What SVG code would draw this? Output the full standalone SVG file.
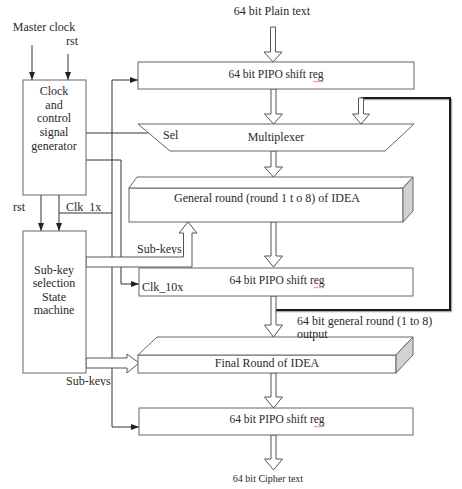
<svg xmlns="http://www.w3.org/2000/svg" width="462" height="489" viewBox="0 0 462 489">
<style>
text{font-family:"Liberation Serif","Times New Roman",serif;font-size:12px;fill:#2a2a2a}
.box{fill:#fff;stroke:#666;stroke-width:1}
.side{fill:#d2d2d2;stroke:#666;stroke-width:1}
.ln{fill:none;stroke:#333;stroke-width:1}
.ha{fill:#fff;stroke:#555;stroke-width:1}
.mid{text-anchor:middle}
.sq{fill:none;stroke:#d33;stroke-width:0.6}
</style>
<defs>
<marker id="ah" viewBox="0 0 8 6" refX="8" refY="3" markerWidth="8" markerHeight="6" orient="auto" markerUnits="userSpaceOnUse">
<path d="M0,0 L8,3 L0,6 z" fill="#222"/>
</marker>
<clipPath id="c1"><rect x="0" y="0" width="462" height="211.3"/></clipPath>
<clipPath id="c2"><rect x="0" y="0" width="462" height="254"/></clipPath>
<clipPath id="c3"><rect x="0" y="0" width="462" height="386"/></clipPath>
</defs>
<rect width="462" height="489" fill="#fff"/>

<g id="connectors">
<line class="ln" x1="32" y1="45" x2="32" y2="80" marker-end="url(#ah)"/>
<line class="ln" x1="68" y1="54" x2="68" y2="80" marker-end="url(#ah)"/>
<line class="ln" x1="41" y1="195" x2="41" y2="231" marker-end="url(#ah)"/>
<line class="ln" x1="59" y1="195" x2="59" y2="231" marker-end="url(#ah)"/>
<polyline class="ln" points="59,213 112,213"/>
<line class="ln" x1="112" y1="80" x2="112" y2="427"/>
<line class="ln" x1="112" y1="80" x2="138" y2="80" marker-end="url(#ah)"/>
<polyline class="ln" points="112,427 139,427" marker-end="url(#ah)"/>
<line class="ln" x1="86" y1="133" x2="148" y2="133"/>
<polyline class="ln" points="86,160 121,160 121,284 139,284" marker-end="url(#ah)"/>
<path d="M274.5,311.5 H451.5 V99.5 H362" fill="none" stroke="#aaa" stroke-width="1.5"/>
<path d="M273,310 H450 V98 H361" fill="none" stroke="#1a1a1a" stroke-width="2"/>
<polygon class="ha" points="270.5,27 275.5,27 275.5,52 282,52 273,62 264,52 270.5,52"/>
<polygon class="ha" points="271,89 276,89 276,114 282.5,114 273.5,124 264.5,114 271,114"/>
<polygon class="ha" points="358.5,98 363.5,98 363.5,114 369.5,114 361,124 352.5,114 358.5,114"/>
<polygon class="ha" points="271,151 276,151 276,167 282.5,167 273.5,177 264.5,167 271,167"/>
<polygon class="ha" points="271,222 276,222 276,256 282.5,256 273.5,267 264.5,256 271,256"/>
<polygon class="ha" points="271,296 276,296 276,325 282.5,325 273.5,337 264.5,325 271,325"/>
<polygon class="ha" points="271,373 276,373 276,397 282.5,397 273.5,408 264.5,397 271,397"/>
<polygon class="ha" points="271,435 276,435 276,459 282.5,459 273.5,470 264.5,459 271,459"/>
<polygon class="ha" points="86,257 183.5,257 183.5,233 179,233 188,222 197,233 192,233 192,267 86,267"/>
<polygon class="ha" points="86,358 127,358 127,354 139,363 127,373 127,368 86,368"/>
</g>

<g id="clock-gen">
<rect class="box" x="23" y="80" width="63" height="115"/>
<text class="mid" x="54" y="95">Clock</text>
<text class="mid" x="54" y="109">and</text>
<text class="mid" x="54" y="122">control</text>
<text class="mid" x="54" y="136">signal</text>
<text class="mid" x="54" y="150">generator</text>
</g>

<g id="subkey-fsm">
<rect class="box" x="23" y="231" width="63" height="142"/>
<text class="mid" x="54" y="274">Sub-key</text>
<text class="mid" x="54" y="287">selection</text>
<text class="mid" x="54" y="301">State</text>
<text class="mid" x="54" y="314">machine</text>
</g>

<g id="reg-top">
<rect class="box" x="138" y="62" width="276" height="27"/>
<text class="mid" x="276" y="78" style="font-size:11.5px">64 bit PIPO shift reg</text>
<path class="sq" d="M313,81 l1.5,1 l1.5,-1 l1.5,1 l1.5,-1 l1.5,1 l1.5,-1 l1.5,1"/>
</g>

<g id="mux">
<polygon class="box" points="138,124 414,124 385,151 170,151"/>
<text x="163" y="139">Sel</text>
<text class="mid" x="276" y="141">Multiplexer</text>
</g>

<g id="general-round">
<rect class="box" x="129" y="188" width="274" height="34"/>
<polygon class="box" points="129,188 137,177 413,177 403,188"/>
<polygon class="side" points="403,188 413,177 413,211 403,222"/>
<text class="mid" x="267" y="202">General round (round 1 t o 8) of IDEA</text>
</g>

<g id="reg-mid">
<rect class="box" x="139" y="268" width="274" height="28"/>
<text class="mid" x="277" y="284" style="font-size:11.5px">64 bit PIPO shift reg</text>
<path class="sq" d="M314,287 l1.5,1 l1.5,-1 l1.5,1 l1.5,-1 l1.5,1 l1.5,-1 l1.5,1"/>
<text x="142" y="291">Clk_10x</text>
</g>

<g id="final-round">
<rect class="box" x="138" y="355" width="258" height="18"/>
<polygon class="box" points="138,355 157,337 413,337 396,355"/>
<polygon class="side" points="396,355 413,337 413,355 396,373"/>
<text class="mid" x="267" y="367">Final Round of IDEA</text>
</g>

<g id="reg-bottom">
<rect class="box" x="139" y="408" width="274" height="27"/>
<text class="mid" x="277" y="423" style="font-size:11.5px">64 bit PIPO shift reg</text>
<path class="sq" d="M314,426 l1.5,1 l1.5,-1 l1.5,1 l1.5,-1 l1.5,1 l1.5,-1 l1.5,1"/>
</g>

<g id="labels">
<text class="mid" x="272" y="15">64 bit Plain text</text>
<text class="mid" x="44" y="31">Master clock</text>
<text x="66" y="45">rst</text>
<text x="13" y="211">rst</text>
<text x="66" y="211" clip-path="url(#c1)">Clk_1x</text>
<text x="137" y="253" clip-path="url(#c2)">Sub-keys</text>
<text x="66" y="385" clip-path="url(#c3)">Sub-keys</text>
<text x="297" y="325">64 bit general round (1 to 8)</text>
<text x="297" y="338">output</text>
<text class="mid" x="268" y="482" style="font-size:10px">64 bit Cipher text</text>
</g>
</svg>
